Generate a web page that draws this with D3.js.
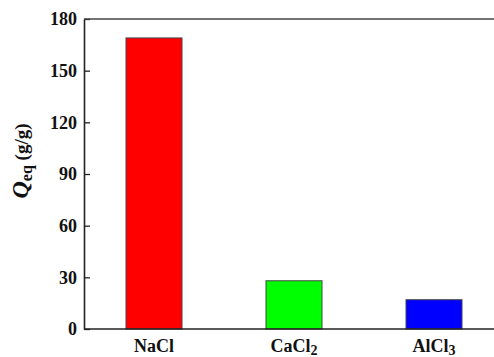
<!DOCTYPE html>
<html>
<head>
<meta charset="utf-8">
<script src="https://cdn.jsdelivr.net/npm/d3@7"></script>
<style>
  html, body { margin: 0; padding: 0; background: #fff; }
  svg { display: block; font-family: "Liberation Serif", "Times New Roman", serif; }
</style>
</head>
<body>
<svg id="chart" width="494" height="357"></svg>
<script>
// Equilibrium swelling capacity in different salt solutions
const salts = ["NaCl", "CaCl", "AlCl"];
const saltSubscripts = ["", "2", "3"];
const qeqValues = [169, 28, 17];
const barColors = ["#ff0000", "#00ff00", "#0000ff"];
const yTicks = [0, 30, 60, 90, 120, 150, 180];

const svg = d3.select("#chart");
const plotLeft = 84, plotTop = 19, plotBottom = 329, plotRight = 504;

const x = d3.scaleBand().domain(salts).range([plotLeft, plotRight]).paddingInner(0.6).paddingOuter(0.3);
const y = d3.scaleLinear().domain([0, 180]).range([plotBottom, plotTop]);

// bars
svg.append("g").selectAll("rect")
  .data(salts)
  .join("rect")
  .attr("x", d => x(d))
  .attr("y", (d, i) => y(qeqValues[i]))
  .attr("width", x.bandwidth())
  .attr("height", (d, i) => y(0) - y(qeqValues[i]))
  .attr("fill", (d, i) => barColors[i])
  .attr("stroke", "#444")
  .attr("stroke-width", 1);

// y axis with inward ticks
const yAxis = svg.append("g")
  .attr("transform", `translate(${plotLeft},0)`)
  .call(d3.axisLeft(y).tickValues(yTicks).tickSizeInner(-6).tickSizeOuter(0).tickPadding(7));
yAxis.select(".domain").attr("stroke", "#222").attr("stroke-width", 1.6);
yAxis.selectAll(".tick line").attr("stroke", "#222").attr("stroke-width", 1.3);
yAxis.selectAll(".tick text")
  .attr("font-family", "Liberation Serif, Times New Roman, serif")
  .attr("font-size", 18).attr("font-weight", "bold").attr("fill", "#111");

// bottom and top frame lines
svg.append("line").attr("x1", plotLeft).attr("x2", 494).attr("y1", plotBottom).attr("y2", plotBottom)
  .attr("stroke", "#222").attr("stroke-width", 1.6);
svg.append("line").attr("x1", plotLeft).attr("x2", 494).attr("y1", plotTop).attr("y2", plotTop)
  .attr("stroke", "#444").attr("stroke-width", 1.6);

// category labels with subscripts
const xl = svg.append("g");
salts.forEach((s, i) => {
  const t = xl.append("text")
    .attr("x", x(s) + x.bandwidth() / 2)
    .attr("y", 352)
    .attr("text-anchor", "middle")
    .attr("font-size", 18).attr("font-weight", "bold").attr("fill", "#111");
  t.append("tspan").text(s);
  if (saltSubscripts[i]) {
    t.append("tspan").attr("dy", 3).attr("font-size", 14).text(saltSubscripts[i]);
  }
});

// y axis title
const yt = svg.append("text")
  .attr("transform", "translate(28,161) rotate(-90)")
  .attr("text-anchor", "middle")
  .attr("font-weight", "bold").attr("fill", "#111");
yt.append("tspan").attr("font-style", "italic").attr("font-size", 24).text("Q");
yt.append("tspan").attr("font-size", 16).attr("dy", 4).text("eq");
yt.append("tspan").attr("font-size", 19).attr("dy", -4).text(" (g/g)");
</script>
</body>
</html>
